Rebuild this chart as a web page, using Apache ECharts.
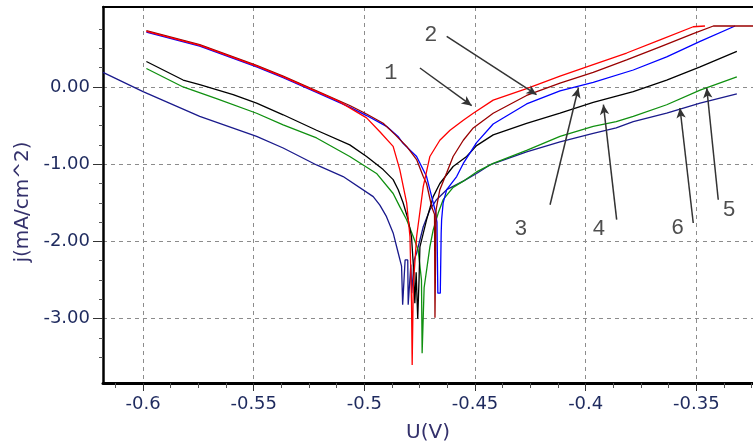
<!DOCTYPE html>
<html>
<head>
<meta charset="utf-8">
<script src="https://cdn.jsdelivr.net/npm/echarts@6/dist/echarts.min.js"></script>
<style>
html,body{margin:0;padding:0;background:#fff;}
#chart{width:753px;height:448px;}
</style>
</head>
<body>
<div id="chart"></div>
<script>
// ---- axis ranges and ticks ----
const xRange = [-0.6181, -0.3244];
const yRange = [-3.834, 1.036];
const xMajorTicks = [-0.6, -0.55, -0.5, -0.45, -0.4, -0.35];
const xMinorTicks = [-0.6125, -0.5875, -0.575, -0.5625, -0.5375, -0.525, -0.5125, -0.4875, -0.475, -0.4625,
  -0.4375, -0.425, -0.4125, -0.3875, -0.375, -0.3625, -0.3375, -0.325];
const yMajorTicks = [-3, -2, -1, 0];
const yMinorTicks = [-3.5, -3.25, -2.75, -2.5, -2.25, -1.75, -1.5, -1.25, -0.75, -0.5, -0.25, 0.25, 0.5, 0.75];

// ---- curves [U(V), j] ----
const curve1 = [[-0.5985,0.72],[-0.5744,0.54],[-0.5487,0.27],[-0.5367,0.13],[-0.5216,-0.06],[-0.512,-0.18],[-0.5066,-0.27],
  [-0.499,-0.40],[-0.493,-0.58],[-0.487,-0.77],[-0.484,-1.07],[-0.4809,-1.50],[-0.4794,-1.94],[-0.4787,-2.79],[-0.4784,-3.60],
  [-0.4779,-2.58],[-0.4764,-1.94],[-0.4734,-1.29],[-0.4704,-0.90],[-0.4659,-0.69],[-0.4613,-0.56],[-0.4553,-0.43],[-0.4508,-0.34],
  [-0.4418,-0.17],[-0.4267,-0.02],[-0.4116,0.14],[-0.3966,0.29],[-0.3815,0.44],[-0.3664,0.61],[-0.3514,0.78],[-0.3461,0.79]];
const curve2 = [[-0.5985,0.73],[-0.5744,0.55],[-0.5487,0.28],[-0.5367,0.14],[-0.5216,-0.05],[-0.5066,-0.24],[-0.499,-0.35],
  [-0.4915,-0.47],[-0.486,-0.62],[-0.4809,-0.77],[-0.4764,-0.94],[-0.4734,-1.16],[-0.4719,-1.25],[-0.4696,-1.55],[-0.4683,-1.65],
  [-0.4681,-2.99],[-0.4677,-2.99],[-0.4676,-1.59],[-0.4659,-1.33],[-0.4628,-1.11],[-0.4599,-0.90],[-0.4553,-0.69],[-0.4508,-0.53],
  [-0.4418,-0.34],[-0.4267,-0.11],[-0.4116,0.05],[-0.3966,0.19],[-0.3815,0.35],[-0.3664,0.52],[-0.3514,0.69],[-0.3423,0.79],[-0.3244,0.79]];
const curve3 = [[-0.5985,0.71],[-0.5744,0.53],[-0.5487,0.26],[-0.5367,0.12],[-0.5216,-0.07],[-0.5066,-0.26],[-0.499,-0.37],
  [-0.49,-0.51],[-0.4848,-0.64],[-0.4825,-0.73],[-0.4764,-0.90],[-0.4719,-1.16],[-0.4696,-1.42],[-0.4681,-1.59],[-0.4672,-1.75],
  [-0.4668,-2.67],[-0.4657,-2.67],[-0.4653,-1.90],[-0.4651,-1.72],[-0.4644,-1.50],[-0.4628,-1.33],[-0.4583,-1.16],[-0.4553,-0.99],
  [-0.4493,-0.72],[-0.4418,-0.48],[-0.4267,-0.22],[-0.4116,-0.05],[-0.3966,0.06],[-0.3785,0.22],[-0.3634,0.39],
  [-0.3483,0.59],[-0.3325,0.79]];
const curve4 = [[-0.5985,0.33],[-0.5819,0.09],[-0.5744,0.03],[-0.5593,-0.10],[-0.5487,-0.21],[-0.5367,-0.36],[-0.5216,-0.56],
  [-0.5066,-0.75],[-0.499,-0.90],[-0.4915,-1.07],[-0.487,-1.20],[-0.4847,-1.33],[-0.4825,-1.50],[-0.4802,-1.72],[-0.4787,-1.94],
  [-0.4779,-2.30],[-0.4772,-2.80],[-0.4766,-2.40],[-0.4759,-3.00],[-0.4753,-2.50],[-0.4749,-2.07],[-0.4719,-1.72],[-0.4689,-1.42],
  [-0.4659,-1.25],[-0.4599,-1.03],[-0.4538,-0.90],[-0.4493,-0.76],[-0.4418,-0.62],[-0.4267,-0.47],[-0.4116,-0.34],[-0.3966,-0.20],
  [-0.3785,-0.06],[-0.3634,0.09],[-0.3483,0.26],[-0.3317,0.46]];
const curve5 = [[-0.5985,0.24],[-0.5819,0.00],[-0.5668,-0.15],[-0.5487,-0.34],[-0.5367,-0.49],[-0.5216,-0.66],[-0.5066,-0.90],
  [-0.4945,-1.12],[-0.487,-1.38],[-0.484,-1.55],[-0.4809,-1.72],[-0.4779,-1.94],[-0.4757,-2.11],[-0.4742,-2.50],[-0.4739,-3.45],
  [-0.4733,-3.45],[-0.4730,-2.60],[-0.4704,-2.07],[-0.4689,-1.85],[-0.4666,-1.63],[-0.4644,-1.46],[-0.4599,-1.30],[-0.4553,-1.22],
  [-0.4493,-1.10],[-0.4418,-0.99],[-0.4267,-0.82],[-0.4116,-0.64],[-0.3966,-0.51],[-0.3862,-0.45],[-0.3785,-0.38],[-0.3634,-0.23],
  [-0.3483,-0.04],[-0.3317,0.13]];
const curve6 = [[-0.6181,0.19],[-0.6,-0.06],[-0.5744,-0.38],[-0.5487,-0.64],[-0.5367,-0.79],[-0.5216,-1.01],[-0.5096,-1.16],
  [-0.496,-1.42],[-0.493,-1.53],[-0.49,-1.68],[-0.487,-1.89],[-0.4847,-2.15],[-0.4832,-2.32],[-0.4827,-2.82],[-0.4818,-2.82],
  [-0.4816,-2.24],[-0.4804,-2.24],[-0.4802,-2.82],[-0.4795,-2.82],[-0.4790,-2.30],[-0.4786,-2.67],[-0.4779,-2.67],[-0.4775,-2.24],
  [-0.4764,-2.15],[-0.4734,-1.81],[-0.4704,-1.59],[-0.4674,-1.46],[-0.4628,-1.33],[-0.4553,-1.22],[-0.4493,-1.12],[-0.4433,-1.01],
  [-0.4267,-0.84],[-0.4116,-0.71],[-0.3966,-0.60],[-0.3862,-0.53],[-0.3785,-0.45],[-0.3634,-0.34],[-0.3483,-0.21],[-0.3317,-0.09]];

// ---- annotations: curve numbers and arrows (data coordinates) ----
const labelNames = ['1', '2', '3', '4', '5', '6'];
const labelPos = [[-0.488,0.185],[-0.470,0.665],[-0.4293,-1.848],[-0.3940,-1.848],[-0.3352,-1.590],[-0.3585,-1.823]];
const arrowFrom = [[-0.4749,0.246],[-0.4628,0.655],[-0.4161,-1.525],[-0.3860,-1.719],[-0.3401,-1.46],[-0.3514,-1.762]];
const arrowTo = [[-0.4515,-0.242],[-0.4222,-0.10],[-0.4033,-0.013],[-0.3920,-0.229],[-0.3453,-0.013],[-0.3574,-0.272]];

const curves = [curve1, curve2, curve3, curve4, curve5, curve6];
const colors = ['#ff0000', '#990000', '#0000ff', '#000000', '#109010', '#1a1a8c'];

const tickColor = '#1e2a5e';
const titleColor = '#33306b';
const gridLine = {show: true, lineStyle: {type: [4, 4], color: '#8c8c8c', width: 1}};

const chart = echarts.init(document.getElementById('chart'), null, {renderer: 'canvas'});

const series = [];
// draw order: navy, green, black, blue, maroon, red
[5, 4, 3, 2, 1, 0].forEach(i => {
  series.push({
    type: 'line', name: 'curve' + (i + 1), data: curves[i], showSymbol: false, symbol: 'none',
    lineStyle: {color: colors[i], width: 1.3}, xAxisIndex: 0, yAxisIndex: 0, z: 3, silent: true
  });
});
series.push({
  type: 'line', name: 'arrows', data: [], xAxisIndex: 0, yAxisIndex: 0, silent: true, z: 5,
  markLine: {
    silent: true, animation: false, symbol: ['none', 'arrow'], symbolSize: [7, 10],
    label: {show: false},
    lineStyle: {color: '#333', width: 1.5, type: 'solid'},
    data: arrowFrom.map((p, k) => [{coord: p, symbol: 'none'}, {coord: arrowTo[k], symbol: 'arrow'}])
  }
});
series.push({
  type: 'scatter', name: 'labels', xAxisIndex: 0, yAxisIndex: 0, silent: true, z: 6,
  symbolSize: 1, itemStyle: {color: 'rgba(0,0,0,0)'},
  data: labelPos.map((p, k) => ({value: p, name: labelNames[k]})),
  label: {show: true, position: 'inside', formatter: p => p.name, color: '#222',
          fontFamily: 'Liberation Mono', fontSize: 22}
});

const option = {
  animation: false,
  backgroundColor: '#ffffff',
  grid: {left: 103, right: 0, top: 7, bottom: 65, containLabel: false},
  xAxis: [
    {
      type: 'value', min: xRange[0], max: xRange[1], position: 'bottom',
      axisLine: {show: true, onZero: false, lineStyle: {color: '#000', width: 3}},
      axisTick: {show: true, customValues: xMajorTicks, length: 8, lineStyle: {color: '#333', width: 1}},
      axisLabel: {show: true, customValues: xMajorTicks, margin: 12, color: tickColor,
                  fontFamily: 'DejaVu Sans', fontSize: 18, formatter: v => String(+v.toFixed(3))},
      splitLine: gridLine,
      name: 'U(V)', nameLocation: 'middle', nameGap: 40,
      nameTextStyle: {color: titleColor, fontFamily: 'DejaVu Sans', fontSize: 20}
    },
    {
      type: 'value', min: xRange[0], max: xRange[1], position: 'bottom',
      axisLine: {show: false, onZero: false},
      axisTick: {show: true, customValues: xMinorTicks, length: 5, lineStyle: {color: '#555', width: 1}},
      axisLabel: {show: false}, splitLine: {show: false}
    },
    {
      type: 'value', min: xRange[0], max: xRange[1], position: 'top',
      axisLine: {show: true, onZero: false, lineStyle: {color: '#000', width: 2}},
      axisTick: {show: false}, axisLabel: {show: false}, splitLine: {show: false}
    }
  ],
  yAxis: [
    {
      type: 'value', min: yRange[0], max: yRange[1], position: 'left',
      axisLine: {show: true, onZero: false, lineStyle: {color: '#000', width: 2.5}},
      axisTick: {show: true, customValues: yMajorTicks, length: 10, lineStyle: {color: '#333', width: 1}},
      axisLabel: {show: true, customValues: yMajorTicks, margin: 13, color: tickColor,
                  fontFamily: 'DejaVu Sans', fontSize: 18, formatter: v => v.toFixed(2)},
      splitLine: gridLine
    },
    {
      type: 'value', min: yRange[0], max: yRange[1], position: 'left',
      axisLine: {show: false, onZero: false},
      axisTick: {show: true, customValues: yMinorTicks, length: 4, lineStyle: {color: '#555', width: 1}},
      axisLabel: {show: false}, splitLine: {show: false}
    }
  ],
  graphic: [{
    type: 'text', x: 23, y: 202, rotation: Math.PI / 2,
    style: {text: 'j(mA/cm^2)', fill: titleColor, font: '20px "DejaVu Sans"',
            textAlign: 'center', textVerticalAlign: 'middle'}
  }],
  series: series
};
chart.setOption(option);
</script>
</body>
</html>
